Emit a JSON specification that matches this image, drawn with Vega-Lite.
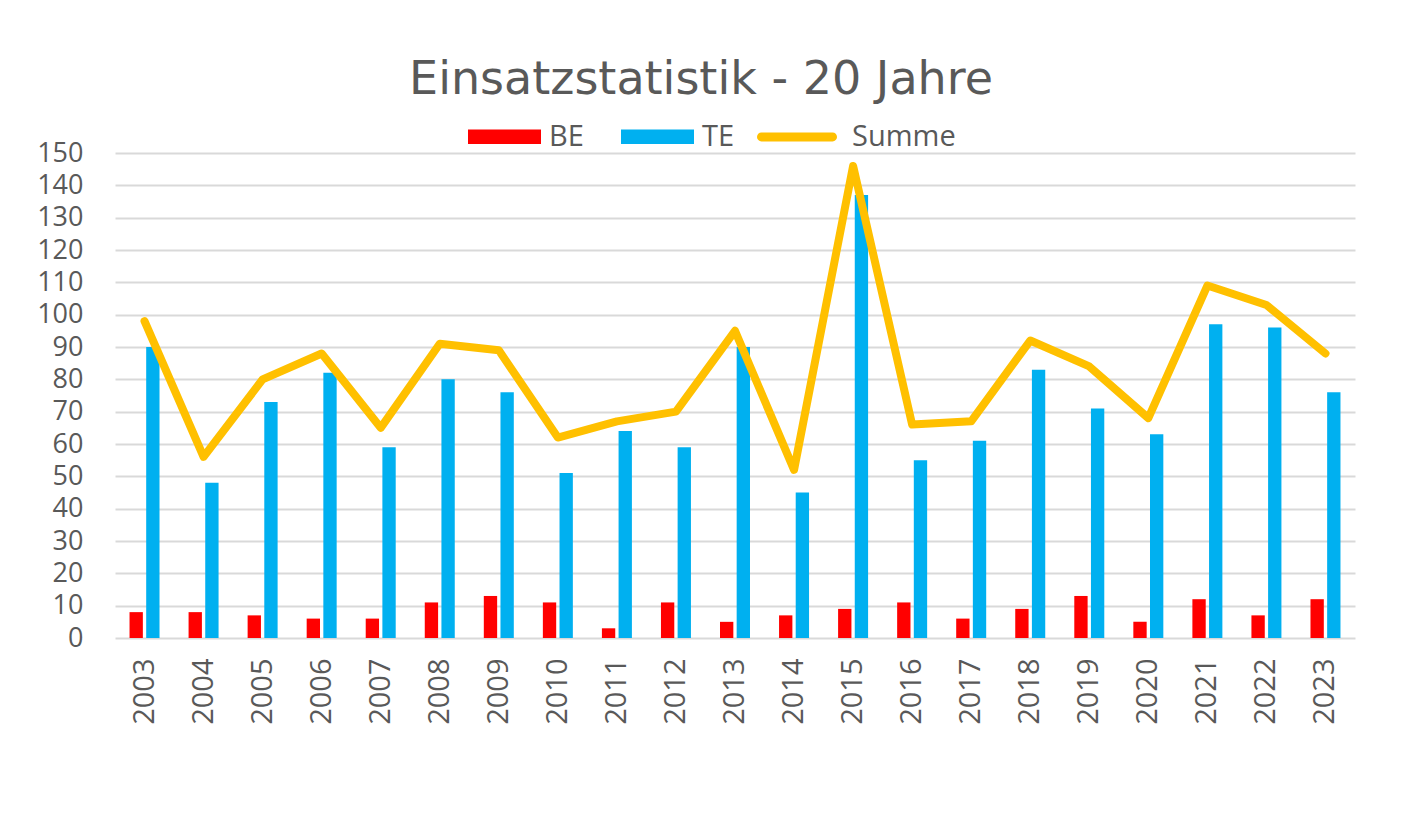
{
  "$schema": "https://vega.github.io/schema/vega-lite/v6.json",
  "autosize": {"type": "none"},
  "width": 1240,
  "height": 485,
  "padding": {"left": 115, "top": 153, "right": 49, "bottom": 196},
  "background": "#ffffff",
  "config": {
    "view": {"stroke": null},
    "font": "Open Sans"
  },
  "title": {
    "text": "Einsatzstatistik - 20 Jahre",
    "font": "DejaVu Sans",
    "fontSize": 46,
    "fontWeight": "normal",
    "color": "#595959",
    "anchor": "middle",
    "frame": "group",
    "dx": -34,
    "dy": 7,
    "offset": 0
  },
  "data": {
    "values": [
      {"year": "2003", "BE": 8, "TE": 90, "Summe": 98},
      {"year": "2004", "BE": 8, "TE": 48, "Summe": 56},
      {"year": "2005", "BE": 7, "TE": 73, "Summe": 80},
      {"year": "2006", "BE": 6, "TE": 82, "Summe": 88},
      {"year": "2007", "BE": 6, "TE": 59, "Summe": 65},
      {"year": "2008", "BE": 11, "TE": 80, "Summe": 91},
      {"year": "2009", "BE": 13, "TE": 76, "Summe": 89},
      {"year": "2010", "BE": 11, "TE": 51, "Summe": 62},
      {"year": "2011", "BE": 3, "TE": 64, "Summe": 67},
      {"year": "2012", "BE": 11, "TE": 59, "Summe": 70},
      {"year": "2013", "BE": 5, "TE": 90, "Summe": 95},
      {"year": "2014", "BE": 7, "TE": 45, "Summe": 52},
      {"year": "2015", "BE": 9, "TE": 137, "Summe": 146},
      {"year": "2016", "BE": 11, "TE": 55, "Summe": 66},
      {"year": "2017", "BE": 6, "TE": 61, "Summe": 67},
      {"year": "2018", "BE": 9, "TE": 83, "Summe": 92},
      {"year": "2019", "BE": 13, "TE": 71, "Summe": 84},
      {"year": "2020", "BE": 5, "TE": 63, "Summe": 68},
      {"year": "2021", "BE": 12, "TE": 97, "Summe": 109},
      {"year": "2022", "BE": 7, "TE": 96, "Summe": 103},
      {"year": "2023", "BE": 12, "TE": 76, "Summe": 88}
    ]
  },
  "encoding": {
    "x": {
      "field": "year",
      "type": "nominal",
      "title": null,
      "scale": {"paddingInner": 0.492, "paddingOuter": 0.246},
      "axis": {
        "labelAngle": -90,
        "labelFontSize": 29,
        "labelColor": "#595959",
        "labelPadding": 20,
        "ticks": false,
        "domain": false,
        "grid": false
      }
    }
  },
  "layer": [
    {
      "transform": [{"fold": ["BE", "TE"], "as": ["series", "value"]}],
      "mark": {"type": "bar"},
      "encoding": {
        "xOffset": {
          "field": "series",
          "type": "nominal",
          "scale": {"domain": ["BE", "TE"], "paddingInner": 0.2, "paddingOuter": 0}
        },
        "y": {
          "field": "value",
          "type": "quantitative",
          "title": null,
          "scale": {"domain": [0, 150], "nice": false},
          "axis": {
            "values": [0, 10, 20, 30, 40, 50, 60, 70, 80, 90, 100, 110, 120, 130, 140, 150],
            "labelFontSize": 27,
            "labelColor": "#595959",
            "labelPadding": 32,
            "labelOverlap": false,
            "ticks": false,
            "domain": false,
            "gridColor": "#d9d9d9",
            "gridWidth": 2
          }
        },
        "color": {
          "field": "series",
          "type": "nominal",
          "scale": {"domain": ["BE", "TE"], "range": ["#FF0000", "#00B0F0"]},
          "legend": {
            "title": null,
            "orient": "none",
            "direction": "horizontal",
            "legendX": 353,
            "legendY": -53,
            "labelFontSize": 29,
            "labelColor": "#595959",
            "labelOffset": 8,
            "columnPadding": 37,
            "symbolSize": 5329,
            "symbolType": "M-1,-0.2H1V0.2H-1Z",
            "symbolStrokeWidth": 0
          }
        }
      }
    },
    {
      "mark": {"type": "line", "strokeWidth": 8, "strokeJoin": "round", "strokeCap": "round"},
      "encoding": {
        "y": {
          "field": "Summe",
          "type": "quantitative",
          "title": null,
          "scale": {"domain": [0, 150], "nice": false},
          "axis": {
            "values": [0, 10, 20, 30, 40, 50, 60, 70, 80, 90, 100, 110, 120, 130, 140, 150],
            "labelFontSize": 27,
            "labelColor": "#595959",
            "labelPadding": 32,
            "labelOverlap": false,
            "ticks": false,
            "domain": false,
            "gridColor": "#d9d9d9",
            "gridWidth": 2
          }
        },
        "stroke": {
          "datum": "Summe",
          "scale": {"domain": ["Summe"], "range": ["#FFC000"]},
          "legend": {
            "title": null,
            "orient": "none",
            "direction": "horizontal",
            "legendX": 642,
            "legendY": -56,
            "labelFontSize": 29,
            "labelColor": "#595959",
            "labelOffset": 15,
            "symbolSize": 6400,
            "symbolType": "M-0.89,-0.11H0.89A0.11,0.11 0 0 1 0.89,0.11H-0.89A0.11,0.11 0 0 1 -0.89,-0.11Z",
            "symbolFillColor": "#FFC000",
            "symbolStrokeWidth": 0
          }
        }
      }
    }
  ]
}
